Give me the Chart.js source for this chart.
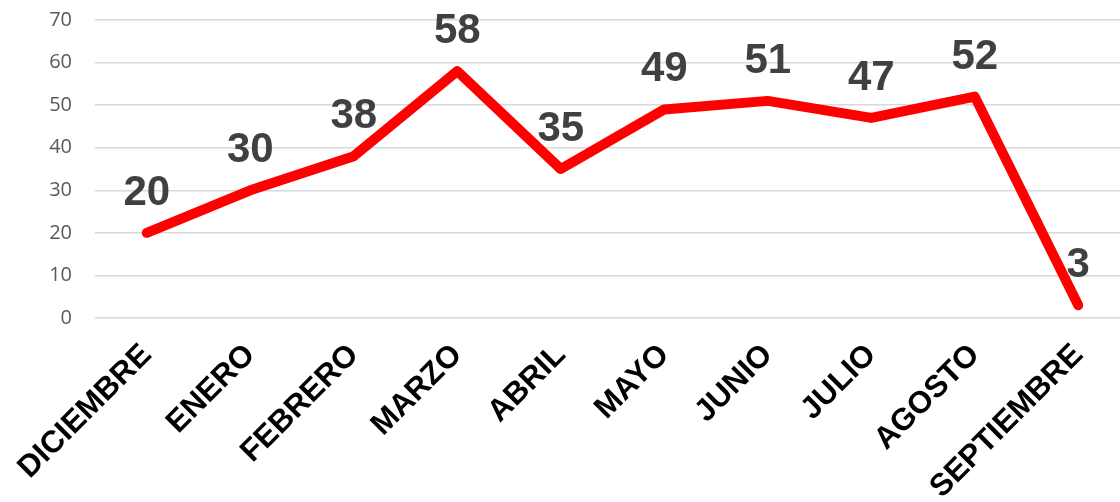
<!DOCTYPE html>
<html>
<head>
<meta charset="utf-8">
<script src="https://cdn.jsdelivr.net/npm/chart.js@4/dist/chart.umd.min.js"></script>
<style>
  html, body { margin: 0; padding: 0; background: #fff; overflow: hidden; }
  #wrap { position: absolute; left: 0; top: 0; width: 1130px; height: 502px; }
</style>
</head>
<body>
<div id="wrap"><canvas id="chart"></canvas></div>
<script>
const months = ['DICIEMBRE', 'ENERO', 'FEBRERO', 'MARZO', 'ABRIL', 'MAYO', 'JUNIO', 'JULIO', 'AGOSTO', 'SEPTIEMBRE'];
const counts = [20, 30, 38, 58, 35, 49, 51, 47, 52, 3];
const yTicks = [0, 10, 20, 30, 40, 50, 60, 70];

// value labels above each point
const valueLabels = {
    id: 'valueLabels',
    beforeDatasetsDraw(chart) {
        const ctx = chart.ctx;
        const meta = chart.getDatasetMeta(0);
        ctx.save();
        ctx.font = 'bold 42px "Liberation Sans", Arial, sans-serif';
        ctx.fillStyle = '#404040';
        ctx.textAlign = 'center';
        ctx.textBaseline = 'alphabetic';
        meta.data.forEach((pt, i) => {
            ctx.fillText(String(counts[i]), pt.x, pt.y - 28);
        });
        ctx.restore();
    }
};

new Chart(document.getElementById('chart'), {
    type: 'line',
    data: {
        labels: months,
        datasets: [{
            data: counts,
            borderColor: '#FF0000',
            borderWidth: 10,
            borderCapStyle: 'round',
            borderJoinStyle: 'round',
            pointRadius: 0,
            pointHoverRadius: 0,
            tension: 0,
            fill: false
        }]
    },
    plugins: [valueLabels],
    options: {
        responsive: true,
        maintainAspectRatio: false,
        animation: false,
        layout: { padding: { top: 20, left: 0, right: 0, bottom: 0 } },
        plugins: {
            legend: { display: false },
            tooltip: { enabled: false }
        },
        scales: {
            x: {
                offset: true,
                grid: { display: false, drawTicks: false },
                border: { display: false },
                ticks: {
                    autoSkip: false,
                    minRotation: 45,
                    maxRotation: 45,
                    padding: 19,
                    color: '#000000',
                    font: { family: '"Liberation Sans", Arial, sans-serif', size: 31, weight: 'bold' }
                },
                afterFit: (s) => { s.height = 184; s.paddingLeft = 0; s.paddingRight = 0; }
            },
            y: {
                min: 0,
                max: 70,
                afterBuildTicks: (s) => { s.ticks = yTicks.map(v => ({ value: v })); },
                grid: { color: '#d9d9d9', lineWidth: 1.5, drawTicks: false },
                border: { display: false },
                ticks: {
                    padding: 23,
                    color: '#595959',
                    font: { family: '"Open Sans", sans-serif', size: 20 }
                },
                afterFit: (s) => { s.width = 95; s.paddingTop = 0; s.paddingBottom = 0; }
            }
        }
    }
});
</script>
</body>
</html>
